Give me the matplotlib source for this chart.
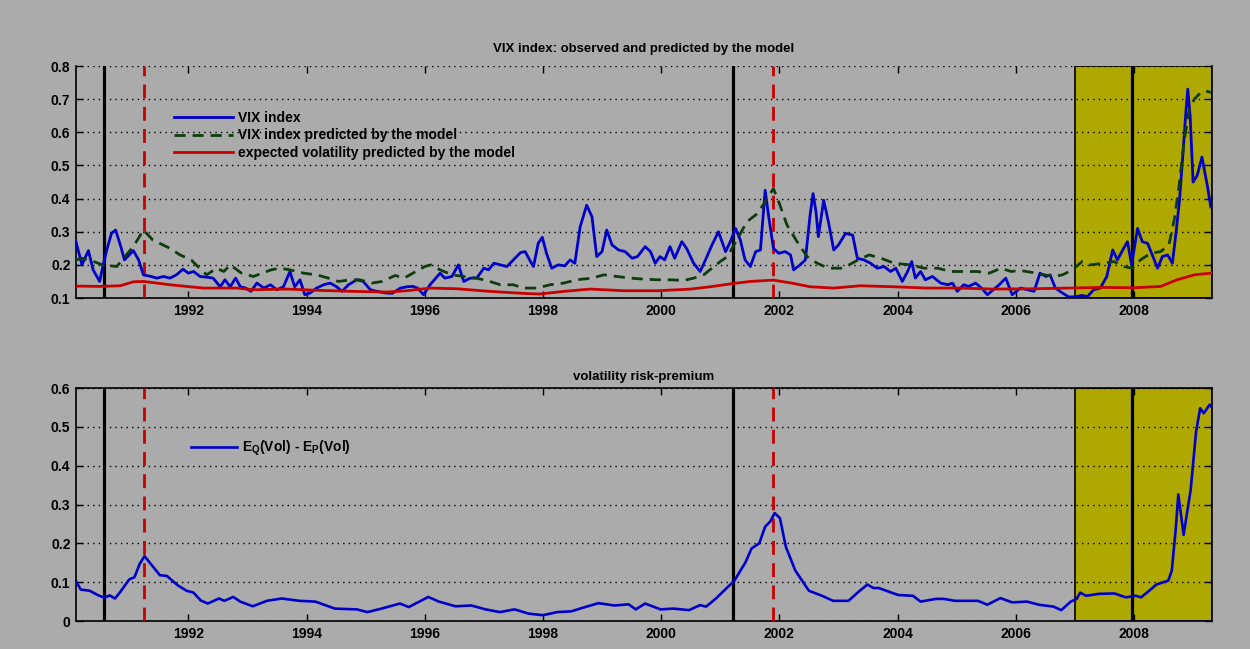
import numpy as np
import matplotlib
matplotlib.use("Agg")
import matplotlib.pyplot as plt

plt.rcParams['font.family'] = ['Liberation Sans', 'DejaVu Sans']
plt.rcParams['font.weight'] = 'bold'
plt.rcParams['font.size'] = 10

# ---- data (decimal years) ----
vix_t = [1990.10, 1990.20, 1990.31, 1990.39, 1990.50, 1990.56, 1990.62, 1990.70, 1990.77, 1990.85,
         1990.92, 1991.00, 1991.07, 1991.16, 1991.24, 1991.37, 1991.47, 1991.58, 1991.69, 1991.80,
         1991.91, 1992.00, 1992.09, 1992.20, 1992.31, 1992.42, 1992.54, 1992.62, 1992.71, 1992.80,
         1992.88, 1992.97, 1993.06, 1993.16, 1993.28, 1993.39, 1993.50, 1993.61, 1993.72, 1993.80,
         1993.89, 1993.97, 1994.06, 1994.17, 1994.29, 1994.40, 1994.51, 1994.60, 1994.71, 1994.85,
         1994.96, 1995.08, 1995.19, 1995.36, 1995.45, 1995.59, 1995.70, 1995.80, 1995.88, 1995.98,
         1996.09, 1996.26, 1996.34, 1996.46, 1996.57, 1996.66, 1996.77, 1996.88, 1997.00, 1997.08,
         1997.17, 1997.28, 1997.39, 1997.50, 1997.62, 1997.70, 1997.79, 1997.84, 1997.92, 1997.99,
         1998.06, 1998.15, 1998.26, 1998.37, 1998.46, 1998.54, 1998.63, 1998.74, 1998.83, 1998.91,
         1999.00, 1999.08, 1999.17, 1999.28, 1999.39, 1999.51, 1999.60, 1999.73, 1999.82, 1999.90,
         1999.98, 2000.06, 2000.15, 2000.23, 2000.35, 2000.43, 2000.55, 2000.66, 2000.75, 2000.86,
         2000.97, 2001.09, 2001.17, 2001.26, 2001.34, 2001.42, 2001.51, 2001.60, 2001.68, 2001.76,
         2001.82, 2001.90, 2001.99, 2002.10, 2002.19, 2002.24, 2002.35, 2002.44, 2002.52, 2002.57,
         2002.62, 2002.66, 2002.75, 2002.83, 2002.92, 2003.00, 2003.12, 2003.24, 2003.32, 2003.43,
         2003.54, 2003.66, 2003.77, 2003.88, 2003.97, 2004.08, 2004.17, 2004.24, 2004.30, 2004.39,
         2004.47, 2004.59, 2004.73, 2004.85, 2004.93, 2005.01, 2005.12, 2005.20, 2005.32, 2005.42,
         2005.52, 2005.62, 2005.72, 2005.83, 2005.94, 2006.08, 2006.20, 2006.31, 2006.41, 2006.51,
         2006.58, 2006.67, 2006.79, 2006.90, 2007.01, 2007.12, 2007.21, 2007.32, 2007.43, 2007.54,
         2007.64, 2007.72, 2007.81, 2007.89, 2007.96, 2008.06, 2008.14, 2008.23, 2008.31, 2008.40,
         2008.48, 2008.57, 2008.65, 2008.71, 2008.77, 2008.82, 2008.88, 2008.91, 2008.95, 2009.00,
         2009.07, 2009.15, 2009.24, 2009.30]
vix = [0.27, 0.20, 0.243, 0.185, 0.15, 0.20, 0.245, 0.295, 0.305, 0.26,
       0.215, 0.23, 0.243, 0.215, 0.17, 0.165, 0.16, 0.165, 0.16, 0.17,
       0.187, 0.175, 0.18, 0.165, 0.163, 0.16, 0.134, 0.155, 0.134, 0.16,
       0.134, 0.13, 0.12, 0.145, 0.13, 0.14, 0.125, 0.134, 0.18, 0.134,
       0.155, 0.11, 0.115, 0.13, 0.14, 0.145, 0.134, 0.12, 0.14, 0.155,
       0.15, 0.125, 0.12, 0.115, 0.114, 0.13, 0.134, 0.135, 0.13, 0.11,
       0.14, 0.175, 0.16, 0.165, 0.20, 0.15, 0.16, 0.16, 0.19, 0.185,
       0.205, 0.20, 0.195, 0.215, 0.237, 0.24, 0.21, 0.195, 0.265, 0.283,
       0.235, 0.19, 0.20, 0.197, 0.215, 0.205, 0.315, 0.38, 0.345, 0.225,
       0.24, 0.305, 0.26, 0.245, 0.24, 0.22, 0.225, 0.255, 0.24, 0.205,
       0.225, 0.215, 0.255, 0.22, 0.27, 0.25, 0.205, 0.18, 0.215, 0.26,
       0.30, 0.24, 0.27, 0.31, 0.275, 0.215, 0.195, 0.24, 0.245, 0.425,
       0.345, 0.25, 0.235, 0.24, 0.23, 0.185, 0.20, 0.215, 0.35, 0.415,
       0.36, 0.285, 0.395, 0.33, 0.245, 0.26, 0.295, 0.29, 0.22, 0.215,
       0.205, 0.19, 0.195, 0.18, 0.19, 0.15, 0.18, 0.21, 0.16, 0.18,
       0.155, 0.165, 0.145, 0.14, 0.145, 0.12, 0.14, 0.135, 0.145, 0.13,
       0.11, 0.125, 0.14, 0.16, 0.11, 0.13, 0.125, 0.12, 0.175, 0.165,
       0.17, 0.13, 0.115, 0.103, 0.104, 0.108, 0.104, 0.125, 0.13, 0.165,
       0.245, 0.215, 0.245, 0.27, 0.20, 0.31, 0.27, 0.265, 0.23, 0.19,
       0.225, 0.23, 0.205, 0.295, 0.395, 0.515, 0.665, 0.73, 0.65, 0.45,
       0.47, 0.525, 0.44, 0.375]

model_t = [1990.10, 1990.20, 1990.40, 1990.55, 1990.79, 1990.95, 1991.07, 1991.24, 1991.40, 1991.69,
           1991.86, 1992.05, 1992.16, 1992.31, 1992.48, 1992.60, 1992.71, 1992.90, 1993.10, 1993.40,
           1993.55, 1993.72, 1993.95, 1994.17, 1994.37, 1994.54, 1994.74, 1994.90, 1995.10, 1995.28,
           1995.50, 1995.65, 1995.85, 1996.00, 1996.10, 1996.26, 1996.46, 1996.66, 1996.88, 1997.10,
           1997.28, 1997.50, 1997.67, 1997.90, 1998.12, 1998.35, 1998.57, 1998.83, 1999.03, 1999.25,
           1999.48, 1999.71, 1999.94, 2000.15, 2000.38, 2000.55, 2000.72, 2000.86, 2001.00, 2001.12,
           2001.28, 2001.45, 2001.63, 2001.74, 2001.90, 2001.99, 2002.13, 2002.30, 2002.47, 2002.64,
           2002.83, 2003.08, 2003.33, 2003.52, 2003.72, 2003.94, 2004.22, 2004.45, 2004.68, 2004.90,
           2005.12, 2005.35, 2005.55, 2005.75, 2005.92, 2006.08, 2006.28, 2006.48, 2006.65, 2006.79,
           2006.96, 2007.12, 2007.26, 2007.49, 2007.66, 2007.83, 2007.97, 2008.11, 2008.28, 2008.45,
           2008.59, 2008.68, 2008.76, 2008.85, 2008.93, 2009.02, 2009.13, 2009.21, 2009.30]
vix_model = [0.215, 0.22, 0.21, 0.20, 0.195, 0.23, 0.255, 0.305, 0.275, 0.25,
             0.23, 0.215, 0.195, 0.17, 0.19, 0.18, 0.20, 0.175, 0.165, 0.185,
             0.19, 0.185, 0.175, 0.17, 0.16, 0.15, 0.155, 0.155, 0.145, 0.15,
             0.168, 0.16, 0.18, 0.195, 0.20, 0.185, 0.17, 0.165, 0.16, 0.15,
             0.14, 0.14, 0.13, 0.13, 0.14, 0.145, 0.155, 0.16, 0.17, 0.165,
             0.16, 0.157, 0.155, 0.155, 0.153, 0.16, 0.17, 0.19, 0.21, 0.225,
             0.275, 0.33, 0.355, 0.385, 0.43, 0.39, 0.32, 0.27, 0.225, 0.205,
             0.19, 0.19, 0.215, 0.23, 0.22, 0.205, 0.20, 0.19, 0.19, 0.18,
             0.18, 0.18, 0.175, 0.19, 0.18, 0.183, 0.177, 0.17, 0.165, 0.17,
             0.185, 0.21, 0.20, 0.205, 0.21, 0.195, 0.19, 0.215, 0.235, 0.24,
             0.26, 0.335, 0.435, 0.575, 0.665, 0.70, 0.72, 0.725, 0.72]

exp_t = [1990.10, 1990.50, 1990.85, 1991.07, 1991.24, 1991.47, 1991.69, 1991.97, 1992.26, 1992.82,
         1993.10, 1993.67, 1994.23, 1994.80, 1995.36, 1995.70, 1996.09, 1996.54, 1997.10, 1997.67,
         1997.95, 1998.35, 1998.80, 1999.37, 1999.94, 2000.50, 2000.83, 2001.23, 2001.51, 2001.90,
         2002.24, 2002.52, 2002.92, 2003.37, 2003.94, 2004.50, 2005.07, 2005.63, 2006.30, 2006.90,
         2007.43, 2008.00, 2008.45, 2008.73, 2009.02, 2009.30]
exp_vol = [0.136, 0.135, 0.137, 0.149, 0.15, 0.145, 0.14, 0.135, 0.13, 0.13,
           0.125, 0.127, 0.123, 0.12, 0.118, 0.122, 0.13, 0.128, 0.12, 0.114,
           0.112, 0.12, 0.127, 0.122, 0.122, 0.127, 0.134, 0.144, 0.15, 0.154,
           0.144, 0.134, 0.13, 0.137, 0.134, 0.13, 0.13, 0.127, 0.128, 0.13,
           0.132, 0.131, 0.135, 0.155, 0.17, 0.175]

prem_t = [1990.11, 1990.18, 1990.33, 1990.48, 1990.58, 1990.67, 1990.76, 1990.85, 1991.00, 1991.09,
          1991.18, 1991.26, 1991.36, 1991.52, 1991.64, 1991.82, 1991.97, 1992.09, 1992.21, 1992.33,
          1992.52, 1992.61, 1992.76, 1992.88, 1993.09, 1993.33, 1993.58, 1993.88, 1994.15, 1994.48,
          1994.85, 1995.03, 1995.27, 1995.58, 1995.73, 1995.91, 1996.06, 1996.24, 1996.52, 1996.79,
          1997.03, 1997.27, 1997.52, 1997.76, 1998.00, 1998.24, 1998.48, 1998.67, 1998.94, 1999.21,
          1999.45, 1999.57, 1999.73, 1999.99, 2000.21, 2000.47, 2000.66, 2000.76, 2000.92, 2001.11,
          2001.24, 2001.43, 2001.53, 2001.66, 2001.76, 2001.85, 2001.92, 2002.01, 2002.11, 2002.27,
          2002.50, 2002.72, 2002.91, 2003.17, 2003.33, 2003.49, 2003.59, 2003.68, 2004.01, 2004.26,
          2004.39, 2004.65, 2004.78, 2004.97, 2005.36, 2005.52, 2005.74, 2005.94, 2006.19, 2006.39,
          2006.64, 2006.77, 2006.93, 2007.03, 2007.09, 2007.19, 2007.41, 2007.67, 2007.86, 2008.03,
          2008.12, 2008.25, 2008.38, 2008.58, 2008.64, 2008.71, 2008.75, 2008.84, 2008.96, 2009.05,
          2009.12, 2009.18, 2009.28, 2009.31]
premium = [0.10, 0.081, 0.078, 0.066, 0.06, 0.066, 0.058, 0.075, 0.107, 0.113,
           0.148, 0.167, 0.148, 0.118, 0.116, 0.092, 0.078, 0.073, 0.053, 0.045,
           0.058, 0.052, 0.062, 0.05, 0.038, 0.052, 0.058, 0.052, 0.05, 0.032,
           0.03, 0.023, 0.032, 0.045, 0.036, 0.05, 0.062, 0.05, 0.038, 0.04,
           0.03, 0.023, 0.03, 0.019, 0.015, 0.023, 0.025, 0.034, 0.046, 0.04,
           0.043, 0.03, 0.045, 0.03, 0.032, 0.028, 0.041, 0.037, 0.057, 0.085,
           0.104, 0.152, 0.187, 0.20, 0.243, 0.257, 0.278, 0.265, 0.191, 0.13,
           0.078, 0.065, 0.052, 0.052, 0.074, 0.094, 0.085, 0.085, 0.067, 0.065,
           0.05, 0.057, 0.057, 0.052, 0.052, 0.042, 0.059, 0.048, 0.05, 0.042,
           0.037, 0.028, 0.05, 0.057, 0.073, 0.065, 0.07, 0.071, 0.061, 0.065,
           0.061, 0.077, 0.094, 0.104, 0.13, 0.243, 0.326, 0.222, 0.339, 0.487,
           0.548, 0.535, 0.557, 0.552]

recession_start = [1990.58, 2001.21, 2007.96]   # black lines
recession_end = [1991.25, 2001.90]              # red dashed lines
crisis_start = 2007.0                            # yellow shading
x_range = (1990.10, 2009.32)
year_ticks = list(range(1992, 2009, 2))

bg = '#ababab'
fig = plt.figure(figsize=(12.5, 6.49), dpi=100, facecolor=bg)
ax1 = fig.add_axes([0.0608, 0.5408, 0.9088, 0.3575], facecolor=bg)
ax2 = fig.add_axes([0.0608, 0.0431, 0.9088, 0.3590], facecolor=bg)


def decorate(ax, ylim, yticks, ylabels):
    ax.axvspan(crisis_start, x_range[1], facecolor='#aea800', edgecolor='black', lw=1.2, zorder=0.3)
    for x in recession_start:
        ax.axvline(x, color='black', lw=2.3, zorder=3)
    for x in recession_end:
        ax.axvline(x, color='#c80000', lw=2, ls=(0, (5, 3)), zorder=3)
    ax.set_xlim(*x_range)
    ax.set_ylim(*ylim)
    ax.set_xticks(year_ticks)
    ax.set_xticklabels([str(y) for y in year_ticks])
    ax.set_yticks(yticks)
    ax.set_yticklabels(ylabels)
    ax.set_axisbelow(True)
    ax.yaxis.grid(True, color='black', ls=(0, (1, 3)), lw=1)
    ax.tick_params(direction='in', top=True, right=True, length=5, width=1, labelsize=10, pad=4)
    for s in ax.spines.values():
        s.set_linewidth(1.2)


decorate(ax1, (0.1, 0.8), np.arange(0.1, 0.81, 0.1),
         ['0.1', '0.2', '0.3', '0.4', '0.5', '0.6', '0.7', '0.8'])
ax1.spines['top'].set_visible(False)
ax1.plot(vix_t, vix, color='#0000c8', lw=2, label='VIX index', zorder=4)
ax1.plot(model_t, vix_model, color='#0f3c0f', lw=2, ls=(0, (4, 2.5)),
         label='VIX index predicted by the model', zorder=4)
ax1.plot(exp_t, exp_vol, color='#c80000', lw=2,
         label='expected volatility predicted by the model', zorder=4)
ax1.set_title('VIX index: observed and predicted by the model', fontsize=9.5,
              fontweight='bold', pad=10)
ax1.legend(loc='upper left', bbox_to_anchor=(0.075, 0.86), frameon=False,
           handlelength=4.3, handletextpad=0.3, labelspacing=0.25, fontsize=10)

decorate(ax2, (0, 0.6), np.arange(0, 0.61, 0.1),
         ['0', '0.1', '0.2', '0.3', '0.4', '0.5', '0.6'])
ax2.plot(prem_t, premium, color='#0000c8', lw=1.9,
         label='E$_\\mathregular{Q}$(Vol) - E$_\\mathregular{P}$(Vol)', zorder=4)
ax2.set_title('volatility risk-premium', fontsize=9.5, fontweight='bold', pad=6)
ax2.legend(loc='upper left', bbox_to_anchor=(0.09, 0.835), frameon=False,
           handlelength=3.3, handletextpad=0.4, fontsize=10)

fig.savefig('out.png', dpi=100, facecolor=bg)
